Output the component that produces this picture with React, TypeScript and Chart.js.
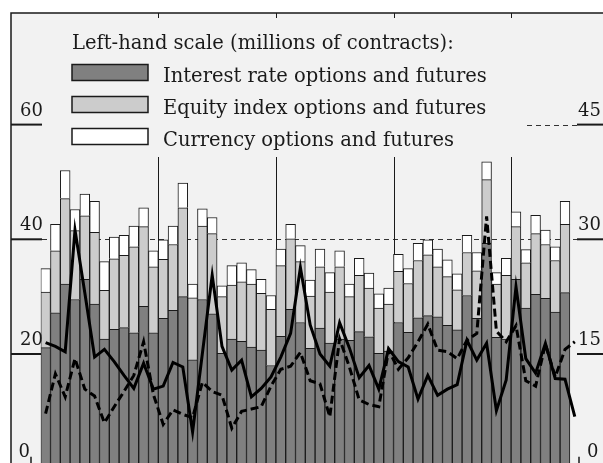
import { useEffect, useRef } from 'react';
import { Chart, registerables } from 'chart.js';

Chart.register(...registerables);

// ---- data ----
const YEARS = ['1995', '1996', '1997', '1998', '1999'];
const MONTHS = ['Jan', 'Feb', 'Mar', 'Apr', 'May', 'Jun', 'Jul', 'Aug', 'Sep', 'Oct', 'Nov', 'Dec'];
const MONTH_COUNT = 55;

const LEGEND_TITLE = 'Left-hand scale (millions of contracts):';
const SERIES_NAMES = [
  'Interest rate options and futures',
  'Equity index options and futures',
  'Currency options and futures',
];

// millions of contracts (left-hand scale)
const INTEREST = [
  21.1, 27.2, 32.2, 29.5, 33.0, 28.7, 22.6, 24.3, 24.6, 23.7, 28.3, 23.7,
  26.2, 27.6, 30.0, 19.0, 29.5, 27.0, 20.1, 22.6, 22.2, 21.2, 20.7, 18.0,
  23.1, 27.8, 25.5, 21.0, 24.5, 21.9, 22.6, 22.4, 23.9, 23.0, 20.1, 20.5,
  25.5, 23.8, 26.3, 26.7, 26.5, 25.0, 24.2, 30.2, 26.2, 39.3, 22.9, 22.6,
  33.0, 28.0, 30.4, 29.7, 27.3, 30.7,
];
const EQUITY = [
  9.7, 10.8, 14.9, 12.0, 11.1, 12.5, 8.5, 12.3, 12.6, 15.0, 13.9, 11.5,
  10.3, 11.5, 15.5, 10.8, 12.8, 14.0, 9.9, 9.4, 10.4, 11.0, 9.9, 9.8,
  12.3, 12.3, 10.6, 9.1, 10.7, 8.9, 12.6, 7.6, 9.8, 8.5, 7.9, 8.2,
  8.9, 8.5, 10.0, 10.6, 8.7, 8.5, 7.0, 7.5, 8.3, 11.1, 9.3, 11.1,
  9.2, 7.9, 10.6, 9.4, 9.0, 11.9,
];
const CURRENCY = [
  4.1, 4.6, 4.9, 3.7, 3.8, 5.4, 5.0, 3.8, 3.5, 3.6, 3.3, 2.8,
  3.4, 3.2, 4.3, 2.4, 3.0, 2.8, 1.9, 3.4, 3.3, 2.5, 2.4, 2.4,
  2.9, 2.5, 2.8, 2.8, 3.1, 3.4, 2.8, 2.2, 3.0, 2.6, 2.5, 2.8,
  3.0, 2.6, 3.0, 2.6, 3.1, 2.9, 2.8, 3.0, 3.2, 3.1, 2.0, 3.0,
  2.6, 2.3, 3.2, 2.5, 2.4, 4.0,
];

// right-hand scale
const LINE_SOLID = [
  16.5, 16.0, 15.3, 31.2, 23.0, 14.6, 15.6, 14.0, 12.2, 10.5, 13.8, 10.4,
  10.8, 13.9, 13.3, 4.8, 15.1, 25.3, 16.0, 12.9, 14.2, 9.4, 10.5, 12.0,
  14.6, 17.7, 26.3, 18.8, 15.0, 13.4, 19.1, 15.8, 11.9, 13.5, 10.4, 15.7,
  14.0, 13.3, 9.1, 12.2, 9.6, 10.4, 11.0, 16.8, 14.2, 16.4, 7.6, 11.6,
  23.8, 14.4, 12.5, 16.4, 11.8, 11.7, 6.8,
];
const LINE_DASHED = [
  7.2, 12.4, 9.4, 14.4, 10.4, 9.5, 6.0, 8.1, 10.1, 12.2, 16.6, 9.7,
  5.8, 7.7, 7.1, 6.7, 11.3, 10.1, 9.6, 5.3, 7.5, 7.8, 8.1, 10.8,
  13.0, 13.4, 15.2, 11.5, 11.1, 6.8, 17.0, 13.3, 9.0, 8.4, 8.1, 15.5,
  13.0, 14.5, 16.6, 18.9, 15.5, 15.3, 14.4, 16.8, 17.7, 33.0, 18.0, 16.6,
  18.7, 11.5, 10.8, 16.3, 12.0, 15.6, 16.6,
];

const LEFT_TICKS = [0, 20, 40, 60];
const RIGHT_TICKS = [0, 15, 30, 45];
const LEFT_DASHED = [40, 60];

const CATEGORIES: string[] = [];
for (let i = 0; i < MONTH_COUNT; i++) {
  CATEGORIES.push(MONTHS[i % 12] + ' ' + YEARS[Math.floor(i / 12)]);
}

// ---- style ----
const INK = '#1a1a1a';
const BG = '#f2f2f2';
const C_INT = '#808080';
const C_EQ = '#cccccc';
const C_CUR = '#ffffff';
const FONT_AXIS = '18px "DejaVu Serif"';
const FONT_LEG = '19.5px "DejaVu Serif"';

const W = 603;
const H = 490;

const decorPlugin = {
  id: 'decor',
  beforeDraw(chart: any) {
    const { ctx, width, height } = chart;
    ctx.save();
    ctx.fillStyle = '#ffffff';
    ctx.fillRect(0, 0, width, height);
    ctx.fillStyle = BG;
    ctx.fillRect(11, 13, width, height);
    ctx.strokeStyle = INK;
    ctx.lineWidth = 1.5;
    ctx.beginPath();
    ctx.moveTo(11, height);
    ctx.lineTo(11, 13);
    ctx.lineTo(width, 13);
    ctx.stroke();
    ctx.restore();
  },
  beforeDatasetsDraw(chart: any) {
    const { ctx } = chart;
    const yL = chart.scales.y;
    const yR = chart.scales.yR;
    const x = chart.scales.x;
    ctx.save();
    // dashed reference lines
    ctx.strokeStyle = '#333';
    ctx.lineWidth = 1;
    ctx.setLineDash([5, 4]);
    LEFT_DASHED.forEach((v) => {
      const y = Math.round(yL.getPixelForValue(v)) + 0.5;
      ctx.beginPath();
      ctx.moveTo(v === 60 ? 527 : 42, y);
      ctx.lineTo(577, y);
      ctx.stroke();
    });
    ctx.setLineDash([]);
    // solid tick stubs
    ctx.strokeStyle = INK;
    ctx.lineWidth = 2;
    LEFT_TICKS.forEach((v) => {
      if (v === 0) return;
      const y = yL.getPixelForValue(v);
      ctx.beginPath();
      ctx.moveTo(11, y);
      ctx.lineTo(42, y);
      ctx.stroke();
    });
    RIGHT_TICKS.forEach((v) => {
      if (v === 0) return;
      const y = yR.getPixelForValue(v);
      ctx.beginPath();
      ctx.moveTo(577, y);
      ctx.lineTo(603, y);
      ctx.stroke();
    });
    // year separators
    ctx.lineWidth = 1;
    for (let i = 12; i < MONTH_COUNT; i += 12) {
      const xp = Math.round((x.getPixelForValue(i - 1) + x.getPixelForValue(i)) / 2) + 0.5;
      ctx.beginPath();
      ctx.moveTo(xp, 157);
      ctx.lineTo(xp, chart.height);
      ctx.stroke();
      ctx.beginPath();
      ctx.moveTo(xp, 13);
      ctx.lineTo(xp, 18);
      ctx.stroke();
    }
    ctx.restore();
  },
  afterDraw(chart: any) {
    const { ctx } = chart;
    const yL = chart.scales.y;
    const yR = chart.scales.yR;
    ctx.save();
    ctx.fillStyle = INK;
    ctx.font = FONT_AXIS;
    ctx.textBaseline = 'alphabetic';
    LEFT_TICKS.forEach((v) => {
      const y = yL.getPixelForValue(v);
      ctx.textAlign = 'right';
      if (v === 0) ctx.fillText(String(v), 30, y - 12);
      else ctx.fillText(String(v), 43, y - 9);
    });
    RIGHT_TICKS.forEach((v) => {
      const y = yR.getPixelForValue(v);
      ctx.textAlign = 'left';
      if (v === 0) ctx.fillText(String(v), 587, y - 12);
      else ctx.fillText(String(v), 578, y - 9);
    });
    // bottom stubs near the zero labels
    ctx.strokeStyle = INK;
    ctx.lineWidth = 1.5;
    const y0 = yL.getPixelForValue(0);
    [31, 579].forEach((xx) => {
      ctx.beginPath();
      ctx.moveTo(xx, y0 - 12);
      ctx.lineTo(xx, chart.height);
      ctx.stroke();
    });

    // legend
    ctx.font = FONT_LEG;
    ctx.textAlign = 'left';
    ctx.fillStyle = INK;
    ctx.fillText(LEGEND_TITLE, 72, 48.5);
    const fills = [C_INT, C_EQ, C_CUR];
    SERIES_NAMES.forEach((name, i) => {
      const top = 64.5 + i * 32;
      ctx.fillStyle = fills[i];
      ctx.fillRect(72, top, 76, 16);
      ctx.strokeStyle = INK;
      ctx.lineWidth = 1.5;
      ctx.strokeRect(72, top, 76, 16);
      ctx.fillStyle = INK;
      ctx.fillText(name, 163, top + 17);
    });
    ctx.restore();
  },
};

export default function App() {
  const ref = useRef<HTMLCanvasElement>(null);
  useEffect(() => {
    const barCommon = {
      type: 'bar' as const,
      yAxisID: 'y',
      stack: 'contracts',
      borderColor: INK,
      borderWidth: 1,
      barPercentage: 1,
      categoryPercentage: 1,
      order: 1,
    };
    const chart = new Chart(ref.current as HTMLCanvasElement, {
      type: 'bar',
      data: {
        labels: CATEGORIES,
        datasets: [
          { ...barCommon, label: SERIES_NAMES[0], data: INTEREST, backgroundColor: C_INT },
          { ...barCommon, label: SERIES_NAMES[1], data: EQUITY, backgroundColor: C_EQ },
          { ...barCommon, label: SERIES_NAMES[2], data: CURRENCY, backgroundColor: C_CUR },
          {
            type: 'line' as const,
            label: 'Right-hand scale: solid',
            data: LINE_SOLID,
            yAxisID: 'yR',
            stack: 'solid',
            borderColor: '#000',
            borderWidth: 3,
            pointRadius: 0,
            tension: 0,
            fill: false,
            order: 0,
          },
          {
            type: 'line' as const,
            label: 'Right-hand scale: dashed',
            data: LINE_DASHED,
            yAxisID: 'yR',
            stack: 'dashed',
            borderColor: '#000',
            borderWidth: 3,
            borderDash: [8, 4],
            pointRadius: 0,
            tension: 0,
            fill: false,
            order: 0,
          },
        ] as any,
      },
      options: {
        responsive: false,
        animation: false,
        devicePixelRatio: 1,
        layout: { padding: { left: 40.7, right: W - 579.7, top: 124.6, bottom: H - 468.7 } },
        plugins: { legend: { display: false }, tooltip: { enabled: false } },
        events: [],
        scales: {
          x: { type: 'category', display: false, stacked: true, offset: true, grid: { display: false } },
          y: { display: false, stacked: true, min: 0, max: 60 },
          yR: { display: false, stacked: false, min: 0, max: 45, position: 'right' },
        },
      } as any,
      plugins: [decorPlugin],
    });
    return () => chart.destroy();
  }, []);
  return (
    <div style={{ position: 'absolute', left: 0, top: 0, width: W, height: 463, overflow: 'hidden' }}>
      <canvas ref={ref} width={W} height={H} style={{ display: 'block', width: W, height: H }} />
    </div>
  );
}
